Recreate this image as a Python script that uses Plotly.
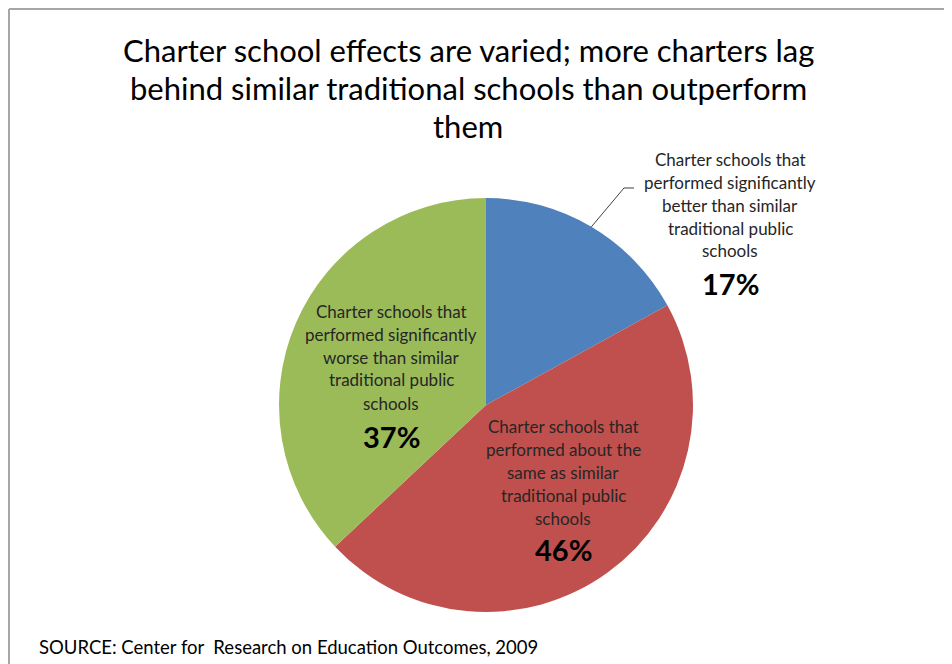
import math
import plotly.graph_objects as go

VW, VH = 952, 664
OFF = 8  # page body margin in the browser
W, H = VW - OFF, VH - OFF

# ---- data ----
categories = [
    "Charter schools that performed significantly better than similar traditional public schools",
    "Charter schools that performed about the same as similar traditional public schools",
    "Charter schools that performed significantly worse than similar traditional public schools",
]
values = [17, 46, 37]
label_lines = [
    ["Charter schools that", "performed significantly", "better than similar", "traditional public", "schools"],
    ["Charter schools that", "performed about the", "same as similar", "traditional public", "schools"],
    ["Charter schools that", "performed significantly", "worse than similar", "traditional public", "schools"],
]
colors = ["#4F81BD", "#C0504D", "#9BBB59"]
title_lines = [
    "Charter school effects are varied; more charters lag",
    "behind similar traditional schools than outperform",
    "them",
]
source = "SOURCE: Center for  Research on Education Outcomes, 2009"

FONT = "Lato"


def px(x):
    return (x - OFF) / W


def py(y):
    return 1 - (y - OFF) / H


# pie geometry (pixels on the page)
cx, cy, R = 486, 405, 207

fig = go.Figure(go.Pie(
    labels=categories,
    values=values,
    marker=dict(colors=colors, line=dict(width=0)),
    sort=False,
    direction="clockwise",
    rotation=0,
    textinfo="none",
    hoverinfo="label+percent",
    showlegend=False,
    domain=dict(x=[px(cx - R), px(cx + R)], y=[py(cy + R), py(cy - R)]),
))

annotations = []
shapes = []

# title
for i, t in enumerate(title_lines):
    annotations.append(dict(
        text=t, x=px(468), y=py(50 + 38 * i), xref="paper", yref="paper",
        showarrow=False, xanchor="center", yanchor="middle",
        font=dict(family=FONT, size=31, color="#000000"),
    ))

# slice labels
label_pos = [(730, 159), (563, 426), (391, 311)]
pct_offset = [124, 123, 125]
total = sum(values)
for k in range(len(values)):
    lx, ly = label_pos[k]
    for j, line in enumerate(label_lines[k]):
        annotations.append(dict(
            text=line, x=px(lx), y=py(ly + 23 * j), xref="paper", yref="paper",
            showarrow=False, xanchor="center", yanchor="middle",
            font=dict(family=FONT, size=17, color="#262626"),
        ))
    annotations.append(dict(
        text="<b>%d%%</b>" % round(100 * values[k] / total),
        x=px(lx), y=py(ly + pct_offset[k]), xref="paper", yref="paper",
        showarrow=False, xanchor="center", yanchor="middle",
        font=dict(family=FONT, size=29, color="#000000"),
    ))

# leader line for first slice, from the slice's mid-angle on the rim
mid = math.radians(90 - 360 * (values[0] / total) / 2)
sx, sy = cx + R * math.cos(mid), cy - R * math.sin(mid)
shapes.append(dict(type="path", xref="paper", yref="paper",
                   path="M %f %f L %f %f L %f %f" % (px(sx), py(sy), px(624), py(188), px(634), py(188)),
                   line=dict(color="#404040", width=1)))

# frame (top and left edges visible)
shapes.append(dict(type="line", xref="paper", yref="paper", x0=px(9), y0=py(9), x1=1.0, y1=py(9),
                   line=dict(color="#A6A6A6", width=2)))
shapes.append(dict(type="line", xref="paper", yref="paper", x0=px(9), y0=py(9), x1=px(9), y1=0.0,
                   line=dict(color="#A6A6A6", width=2)))

# source
annotations.append(dict(
    text=source, x=px(37), y=py(647), xref="paper", yref="paper",
    showarrow=False, xanchor="left", yanchor="middle",
    font=dict(family=FONT, size=18.5, color="#000000"),
))

fig.update_layout(
    width=W, height=H,
    margin=dict(l=0, r=0, t=0, b=0),
    paper_bgcolor="white", plot_bgcolor="white",
    annotations=annotations, shapes=shapes,
)

fig.write_html("out.html")
